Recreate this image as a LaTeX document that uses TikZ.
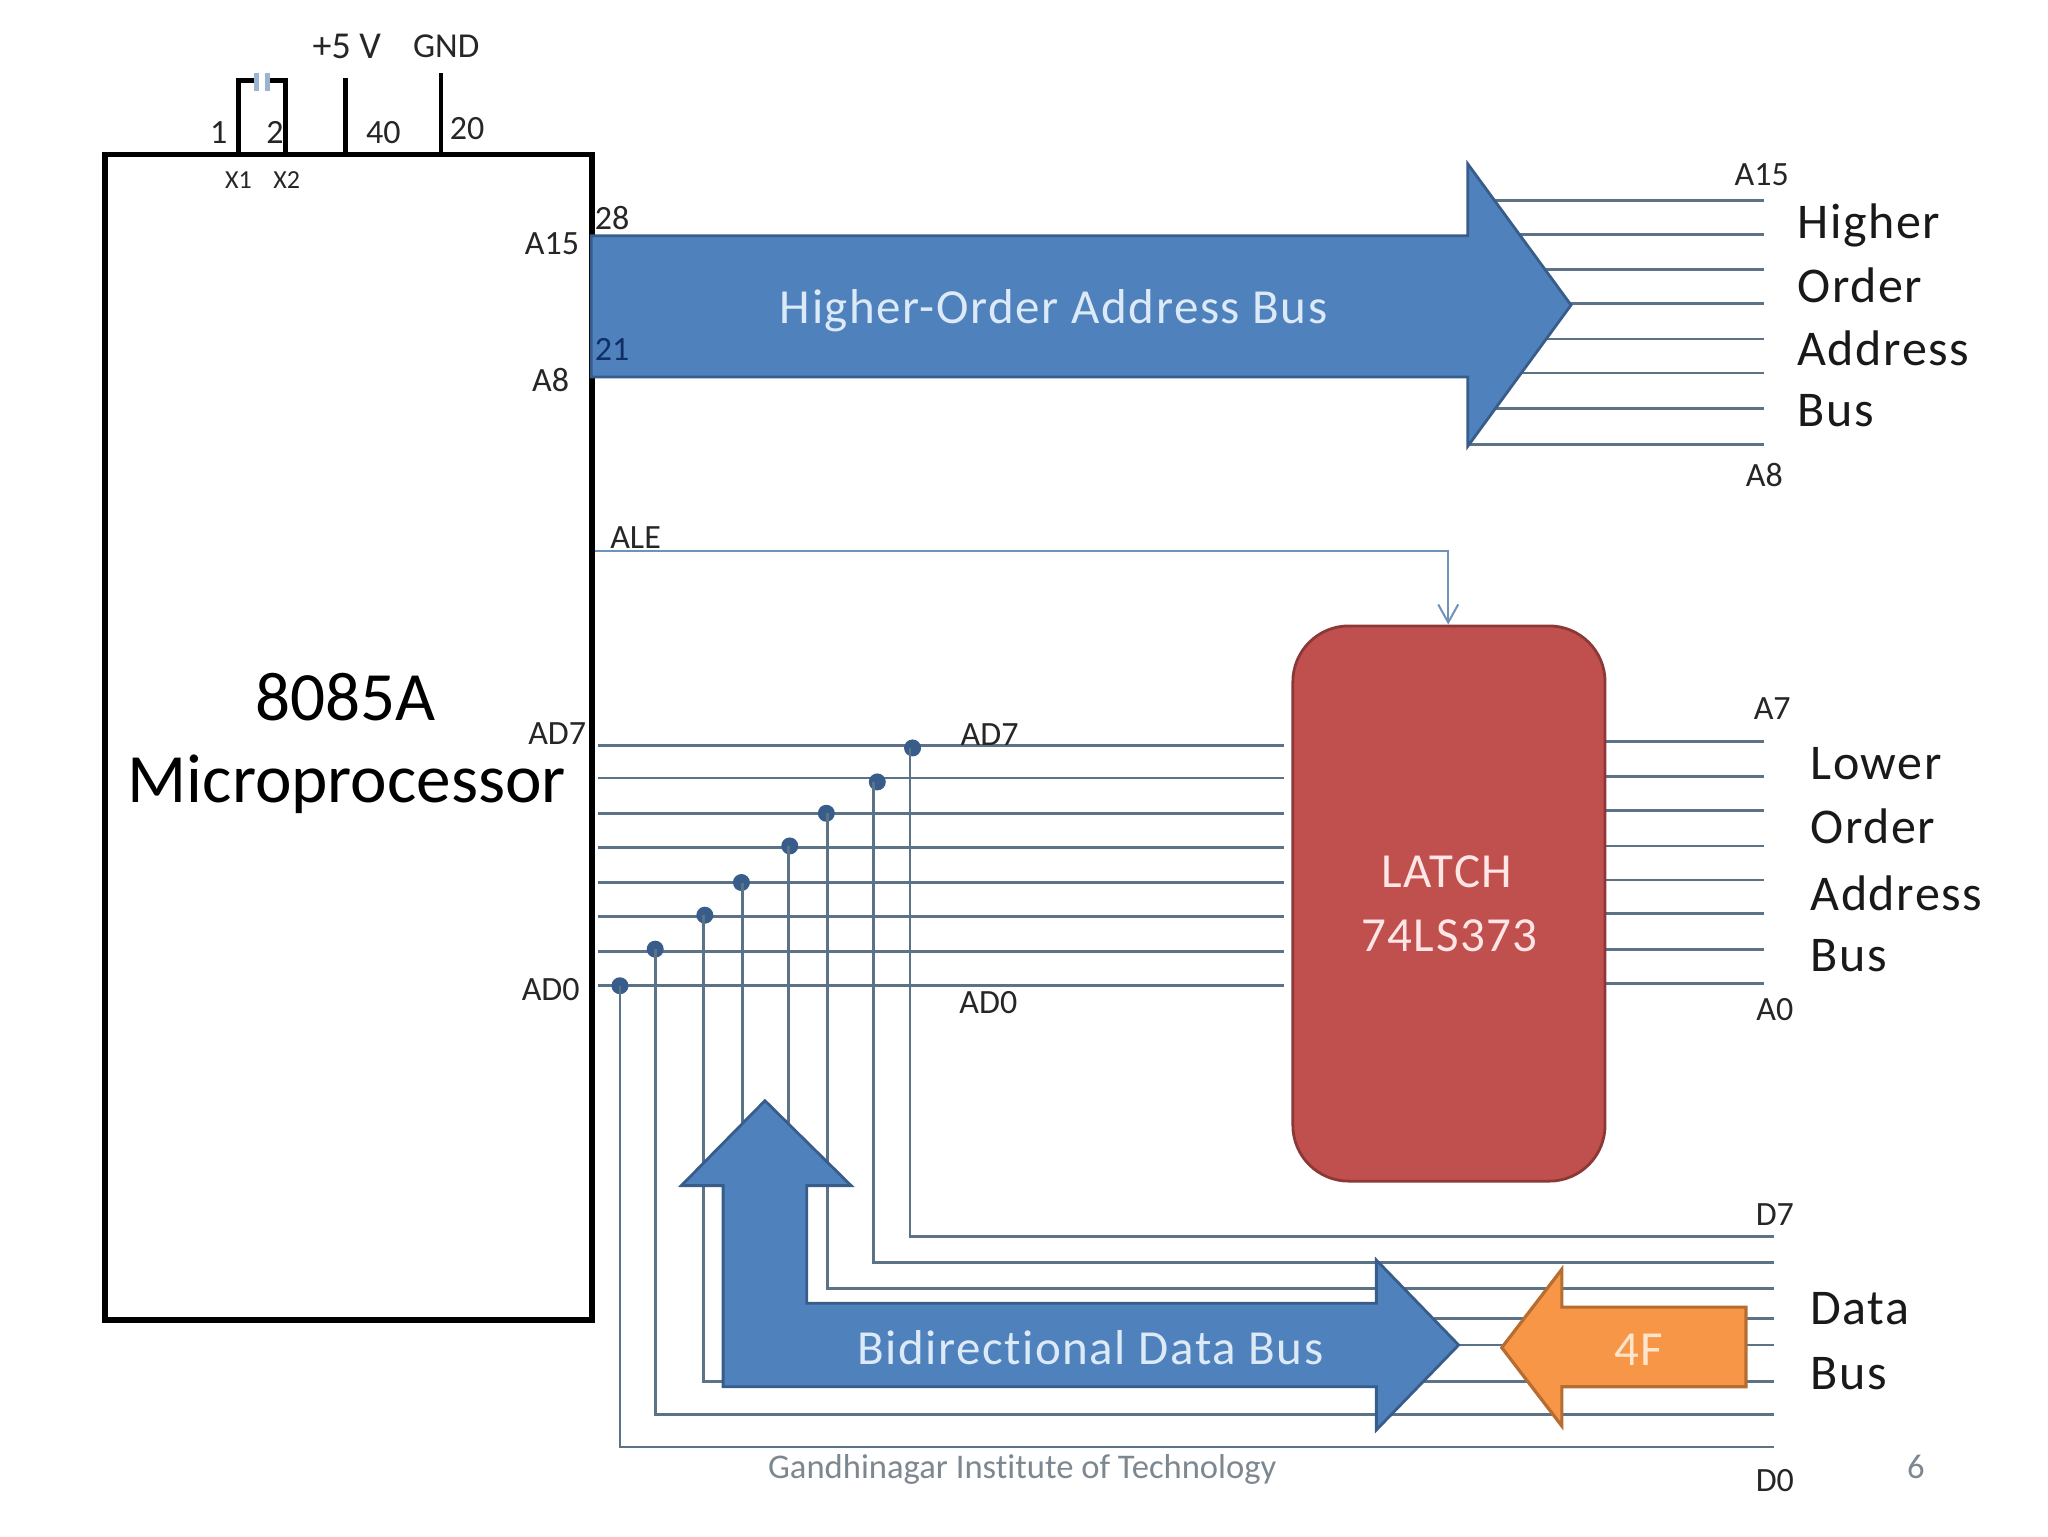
\documentclass[tikz,border=0pt]{standalone}
\usepackage{fontspec}
\setmainfont[Ligatures=NoCommon]{Carlito}
\newfontfamily\spaced[Ligatures=NoCommon,LetterSpace=3.2]{Carlito}
\usetikzlibrary{arrows.meta}
\definecolor{busfill}{HTML}{4F81BD}
\definecolor{busline}{HTML}{385D8A}
\definecolor{wire}{HTML}{5C7286}
\definecolor{alewire}{HTML}{6F93B8}
\definecolor{latchfill}{HTML}{C0504D}
\definecolor{latchline}{HTML}{8C3836}
\definecolor{orangefill}{HTML}{F79646}
\definecolor{orangeline}{HTML}{B66D31}
\definecolor{foot}{HTML}{7D8790}
\definecolor{whitetxt}{HTML}{DCE9F6}
\definecolor{pinblue}{HTML}{0F2F66}
\definecolor{capblue}{HTML}{9DB4CF}
\newcommand{\fsz}[1]{\fontsize{#1}{#1}\selectfont}
\tikzset{
  lbl/.style={inner sep=0pt,text=black!85,font=\fsz{17}},
  sidetxt/.style={inner sep=0pt,anchor=west,text=black!90,font=\spaced\fsz{25}},
  bigtxt/.style={inner sep=0pt,text=black,font=\fsz{34.6}},
  bustxt/.style={inner sep=0pt,text=whitetxt,font=\spaced\fsz{24.5}},
  pin/.style={draw=black,line width=2.4pt},
  wireline/.style={draw=wire,line width=1.4pt},
  busarrow/.style={fill=busfill,draw=busline,line width=1.4pt,line join=miter},
  tap/.style={circle,fill=busline,inner sep=0pt,minimum size=8.5pt},
}
\begin{document}
\begin{tikzpicture}[x=0.6532pt,y=-0.6532pt]
\useasboundingbox (0.5,0.5) rectangle (1568.1,1176.2);
% wires under everything
\foreach \n/\y/\yr in {0/755/753,1/729/727,2/702/700,3/676/674,4/649/648,5/623/621,6/596/595,7/571/568}{
  \coordinate (adl\n) at (458,\y);
  \coordinate (adr\n) at (983,\y);
  \coordinate (lo\n) at (1229,\yr);
  \coordinate (lor\n) at (1351,\yr);
  \draw[wireline] (adl\n) -- (adr\n);
  \draw[wireline] (lo\n) -- (lor\n);
}
\foreach \n/\y in {0/341,1/313,2/286,3/260,4/233,5/207,6/180,7/154}{
  \coordinate (hi\n) at (1124,\y);
  \coordinate (hir\n) at (1351,\y);
  \draw[wireline] (hi\n) -- (hir\n);
}
\foreach \n/\xd/\yd/\xv/\yb in {0/475/755/475/1108,1/502/727/502/1083,2/540/701/539/1058,3/568/676/569/1030,4/605/648/604/1010,5/633/623/634/987,6/672/599/669/967,7/699/573/697/947}{
  \node[tap] (dot\n) at (\xd,\yd) {};
  \coordinate (vt\n) at (\xv,\yd);
  \coordinate (vb\n) at (\xv,\yb);
  \coordinate (dr\n) at (1358,\yb);
  \draw[wireline,line join=miter] (vt\n) -- (vb\n) -- (dr\n);
}
% processor
\node[draw=black,line width=2.8pt,minimum width=373*0.6532pt,minimum height=892*0.6532pt,inner sep=0pt,anchor=north west] (cpu) at (78.5,116.5) {};
\coordinate (x1) at (183,117);
\coordinate (x2) at (219,117);
\coordinate (x1t) at (183,62);
\coordinate (x2t) at (219,62);
\coordinate (capl) at (197,62);
\coordinate (capr) at (206,62);
\draw[pin,line join=miter] (x1) -- (x1t) -- (capl);
\draw[pin,line join=miter] (x2) -- (x2t) -- (capr);
\draw[draw=capblue,line width=2.4pt] (197,56) -- (197,70) (205,56) -- (205,70);
\coordinate (vcc) at (265,117);
\coordinate (vcct) at (265,60);
\coordinate (gnd) at (338,117);
\coordinate (gndt) at (338,56);
\draw[pin] (vcc) -- (vcct);
\draw[pin] (gnd) -- (gndt);
\node[lbl,font=\fsz{19}] (t5v) at (266,36) {+5 V};
\node[lbl,font=\fsz{17.5}] (tgnd) at (342,36) {GND};
\node[lbl] (t1) at (168,102) {1};
\node[lbl] (t2) at (211,102) {2};
\node[lbl] (t40) at (294,102) {40};
\node[lbl] (t20) at (358,99) {20};
\node[lbl,font=\fsz{13}] (tx1) at (183,138) {X1};
\node[lbl,font=\fsz{13}] (tx2) at (220,138) {X2};
\node[lbl] (t28) at (469,167) {28};
\node[lbl] (ta15) at (423,187) {A15};
\node[lbl] (ta8) at (422,291) {A8};
\node[bigtxt] (t8085) at (265,534) {8085A};
\node[bigtxt] (tmp) at (266,601) {Microprocessor};
% high bus
\draw[busarrow] (453,181) -- (1124,181) -- (1124,126) -- (1203,234) -- (1124,342) -- (1124,289) -- (453,289) -- cycle;
\node[lbl,text=pinblue] (t21) at (469,268) {21};
\node[bustxt] (thb) at (807,238) {Higher-Order Address Bus};
\node[lbl] (ra15) at (1349,134) {A15};
\node[lbl] (ra8) at (1351,364) {A8};
\node[sidetxt] (s1) at (1376,173) {Higher};
\node[sidetxt] (s2) at (1376,219) {Order};
\node[sidetxt] (s3) at (1376,267) {Address};
\node[sidetxt] (s4) at (1376,315) {Bus};
% latch
\node[draw=latchline,fill=latchfill,line width=1.4pt,rounded corners=28pt,minimum width=239*0.6532pt,minimum height=425*0.6532pt,inner sep=0pt,anchor=north west] (latch) at (989,478.5) {};
\node[bustxt,text=red!10!white] (tl1) at (1108,668) {LATCH};
\node[bustxt,text=red!10!white] (tl2) at (1110,717) {74LS373};
% ALE
\coordinate (ales) at (456,422);
\coordinate (alec) at (1109,422);
\draw[draw=alewire,line width=1pt,-{Straight Barb[length=9pt,width=10pt]}] (ales) -- (alec) -- (alec |- latch.north);
\node[lbl] (tale) at (487,412) {ALE};
\node[lbl] (tad7l) at (427,562) {AD7};
\node[lbl] (tad0l) at (422,758) {AD0};
\node[lbl] (tad7) at (758,563) {AD7};
\node[lbl] (tad0) at (757,768) {AD0};
\node[lbl] (ra7) at (1357,543) {A7};
\node[lbl] (ra0) at (1359,773) {A0};
\node[sidetxt] (l1) at (1386,585) {Lower};
\node[sidetxt] (l2) at (1386,633) {Order};
\node[sidetxt] (l3) at (1386,684) {Address};
\node[sidetxt] (l4) at (1386,732) {Bus};
% data bus
\draw[busarrow] (586,843) -- (652,908) -- (618,908) -- (618,998) -- (1054,998) -- (1054,965) -- (1117,1030) -- (1054,1095) -- (1054,1062) -- (554,1062) -- (554,908) -- (522,908) -- cycle;
\node[bustxt] (tdb) at (835,1032) {Bidirectional Data Bus};
\draw[fill=orangefill,draw=orangeline,line width=1.6pt] (1150,1032) -- (1196,972) -- (1196,1001) -- (1337,1001) -- (1337,1062) -- (1196,1062) -- (1196,1092) -- cycle;
\node[bustxt,text=orange!20!white] (t4f) at (1255,1034) {4F};
\node[lbl] (d7) at (1359,930) {D7};
\node[lbl] (d0) at (1359,1134) {D0};
\node[sidetxt] (d1) at (1386,1002) {Data};
\node[sidetxt] (d2) at (1386,1052) {Bus};
% footer
\node[inner sep=0pt,text=foot,font=\fsz{17.3}] (foot) at (783,1125) {Gandhinagar Institute of Technology};
\node[inner sep=0pt,text=foot,font=\fsz{17.3}] (page) at (1467,1123) {6};
\end{tikzpicture}
\end{document}
